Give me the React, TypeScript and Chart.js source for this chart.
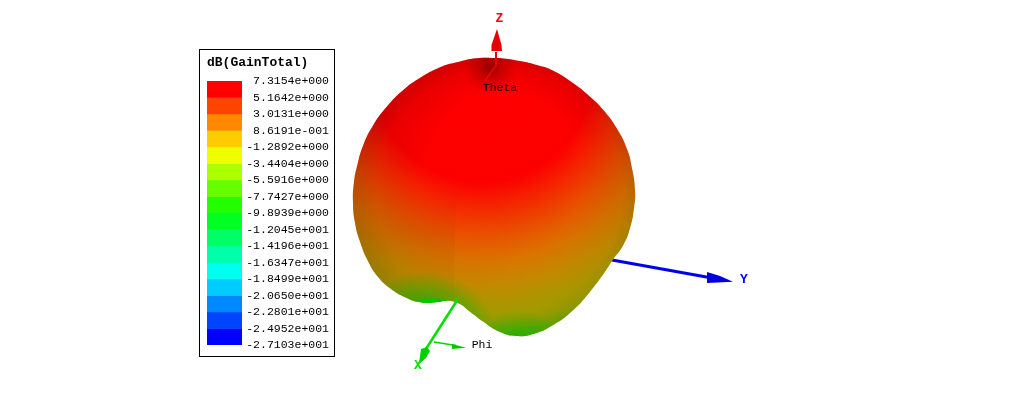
import React, { useEffect, useRef } from "react";
import { Chart, registerables } from "chart.js";

Chart.register(...registerables);

type P = { x: number; y: number };
const pts = (a: number[][]): P[] => a.map(([x, y]) => ({ x, y }));

// colour key
const legendTitle = "dB(GainTotal)";
const legendLabels = [
  "7.3154e+000", "5.1642e+000", "3.0131e+000", "8.6191e-001", "-1.2892e+000", "-3.4404e+000",
  "-5.5916e+000", "-7.7427e+000", "-9.8939e+000", "-1.2045e+001", "-1.4196e+001", "-1.6347e+001",
  "-1.8499e+001", "-2.0650e+001", "-2.2801e+001", "-2.4952e+001", "-2.7103e+001",
];
const legendColors = [
  "#ff0000", "#ff4400", "#ff8800", "#ffcc00", "#eeff00", "#aaff00", "#66ff00", "#22ff00",
  "#00ff22", "#00ff66", "#00ffaa", "#00ffee", "#00ccff", "#0088ff", "#0044ff", "#0000ff",
];
const legendLevels = legendLabels.map(Number);

// gain pattern silhouette
const lobeOutline = pts([
  [500, 58], [520, 61], [536.7, 65], [553.3, 70.7], [573.3, 83.3], [590, 96.7], [603.3, 110],
  [616.7, 128.3], [626.7, 148.3], [631.7, 166.7], [635, 190], [634, 208.3], [630, 228.3],
  [623.3, 245], [612.7, 260], [605, 271.7], [590, 291.7], [573.3, 310], [553.3, 325],
  [533.3, 334], [516.7, 336], [500, 332], [483.3, 321.7], [470, 311.7], [458.3, 303.3],
  [446.7, 300.7], [436.7, 302], [420, 302.3], [405, 297.3], [390, 288.3], [378.3, 277.3],
  [368.3, 261.7], [360, 241.7], [355, 223], [353, 203], [354, 181.7], [357.3, 165],
  [363.3, 145], [373.3, 125], [386.7, 106.7], [403.3, 90], [418.3, 79], [440, 67.3],
  [456.7, 62.3], [476.7, 58.3], [500, 58],
]);
const leftFacet = pts([
  [457, 183], [455, 240], [454, 302], [436.7, 302], [420, 302.3], [405, 297.3], [390, 288.3], [378.3, 277.3],
  [368.3, 261.7], [360, 241.7], [355, 223], [353, 203], [354, 181.7], [457, 183],
]);
const zStem = pts([[496, 52], [496, 66], [492, 71]]);
const zInner = pts([[492, 71], [485, 81]]);
const zCone = pts([[497, 29], [501.5, 45], [502, 51], [491, 51], [491.5, 45], [497, 29]]);
const yStem = pts([[612, 260], [712, 278]]);
const yCone = pts([[733, 281.7], [707, 283], [707, 272], [720, 276], [733, 281.7]]);
const xStem = pts([[458, 299], [424, 352]]);
const xCone = pts([[421, 349], [427, 347], [430, 351], [426, 358], [419, 364], [420, 356], [421, 349]]);
const phiStem = pts([[434, 342], [456, 345.5]]);
const phiCone = pts([[466, 347.7], [452, 349], [452, 344], [466, 347.7]]);
const xTongue = pts([[417, 300.5], [430, 298.5], [447, 300], [435, 302.5], [424, 302.8], [417, 300.5]]);

const axisLabels = [
  { text: "Z", x: 499.5, y: 19, color: "#ff0000", bold: true },
  { text: "Y", x: 744, y: 280, color: "#0000ff", bold: true },
  { text: "X", x: 418, y: 366, color: "#00e000", bold: true },
  { text: "Theta", x: 500, y: 88, color: "#000000", bold: false },
  { text: "Phi", x: 482, y: 345, color: "#000000", bold: false },
];

const MONO = '"Liberation Mono", "DejaVu Sans Mono", monospace';

const poly = (data: P[], color: any, tension = 0) => ({
  type: "scatter" as const,
  data,
  showLine: true,
  borderWidth: 0,
  pointRadius: 0,
  tension,
  fill: "shape",
  backgroundColor: color,
  borderColor: "rgba(0,0,0,0)",
});
const stroke = (data: P[], color: string, borderWidth: number) => ({
  type: "scatter" as const,
  data,
  showLine: true,
  borderWidth,
  pointRadius: 0,
  borderColor: color,
  backgroundColor: color,
  fill: false,
});

export default function App() {
  const mainRef = useRef<HTMLCanvasElement>(null);
  const keyRef = useRef<HTMLCanvasElement>(null);

  useEffect(() => {
    const ctx = mainRef.current!.getContext("2d")!;

    const gain = ctx.createRadialGradient(482, 72, 0, 482, 72, 290);
    [
      [0, "#ff0000"], [0.38, "#fc0000"], [0.47, "#f42800"], [0.56, "#e85000"], [0.65, "#dc7400"],
      [0.73, "#cc8e00"], [0.8, "#b8a000"], [0.86, "#aaac00"], [0.91, "#70c000"], [1, "#18d800"],
    ].forEach(([o, c]) => gain.addColorStop(o as number, c as string));

    const shade = ctx.createRadialGradient(515, 140, 0, 495, 205, 158);
    [
      [0, "rgba(0,0,0,0)"], [0.5, "rgba(0,0,0,0)"], [0.78, "rgba(0,0,0,0.08)"], [0.93, "rgba(0,0,0,0.2)"], [1, "rgba(0,0,0,0.26)"],
    ].forEach(([o, c]) => shade.addColorStop(o as number, c as string));

    const pole = ctx.createRadialGradient(490, 68, 0, 490, 68, 26);
    pole.addColorStop(0, "rgba(0,0,0,0.35)");
    pole.addColorStop(0.45, "rgba(0,0,0,0.15)");
    pole.addColorStop(1, "rgba(0,0,0,0)");

    const facet = ctx.createLinearGradient(0, 185, 0, 283);
    facet.addColorStop(0, "rgba(0,0,0,0)");
    facet.addColorStop(0.5, "rgba(0,0,0,0.035)");
    facet.addColorStop(1, "rgba(0,0,0,0.02)");

    const tintLeft = ctx.createRadialGradient(425, 345, 30, 425, 345, 74);
    tintLeft.addColorStop(0, "rgba(0,190,0,0.9)");
    tintLeft.addColorStop(0.4, "rgba(0,180,0,0.5)");
    tintLeft.addColorStop(1, "rgba(0,180,0,0)");

    const tintBottom = ctx.createRadialGradient(518, 365, 15, 518, 365, 55);
    tintBottom.addColorStop(0, "rgba(0,190,0,0.8)");
    tintBottom.addColorStop(1, "rgba(0,180,0,0)");

    const layers: any[] = [
      stroke(yStem, "#0000e8", 3),
      poly(yCone, "#0000e0"),
      poly(lobeOutline, gain, 0.5),
      poly(lobeOutline, shade, 0.5),
      poly(lobeOutline, pole, 0.5),
      poly(leftFacet, facet),
      poly(lobeOutline, tintLeft, 0.5),
      poly(lobeOutline, tintBottom, 0.5),
      poly(xTongue, "#00c800", 0.3),
      stroke(zStem, "#e80000", 2),
      stroke(zInner, "#f01010", 1.2),
      poly(zCone, "#e60000"),
      stroke(xStem, "#00e000", 2.5),
      poly(xCone, "#00d000"),
      stroke(phiStem, "#00d800", 1.5),
      poly(phiCone, "#00c800"),
    ];
    const datasets = layers.map((d, i) => ({ ...d, order: layers.length - i }));

    const labelPlugin = {
      id: "axisLabels",
      afterDatasetsDraw(c: any) {
        const g = c.ctx;
        g.save();
        g.textAlign = "center";
        g.textBaseline = "middle";
        axisLabels.forEach((l) => {
          g.font = `${l.bold ? "bold 13px" : "11.5px"} ${MONO}`;
          g.fillStyle = l.color;
          g.fillText(l.text, c.scales.x.getPixelForValue(l.x), c.scales.y.getPixelForValue(l.y));
        });
        g.restore();
      },
    };

    const main = new Chart(mainRef.current!, {
      type: "scatter",
      data: { datasets },
      plugins: [labelPlugin],
      options: {
        animation: false,
        responsive: false,
        devicePixelRatio: 1,
        layout: { padding: 0 },
        plugins: { legend: { display: false }, tooltip: { enabled: false }, title: { display: false } },
        scales: {
          x: { type: "linear", min: 0, max: 1036, display: false },
          y: { type: "linear", min: 0, max: 401, reverse: true, display: false },
        },
      },
    } as any);

    const key = new Chart(keyRef.current!, {
      type: "bar",
      data: {
        labels: ["key"],
        datasets: legendColors.map((color, i) => ({
          data: [[legendLevels[i + 1], legendLevels[i]]],
          backgroundColor: color,
          borderWidth: 0,
          barPercentage: 1,
          categoryPercentage: 1,
          grouped: false,
        })),
      } as any,
      options: {
        animation: false,
        responsive: false,
        devicePixelRatio: 1,
        layout: { padding: { left: 7, right: 5, top: 0, bottom: 11 } },
        plugins: {
          legend: { display: false },
          tooltip: { enabled: false },
          title: {
            display: true,
            text: legendTitle,
            align: "start",
            color: "#000000",
            font: { family: MONO, size: 13, weight: "bold", lineHeight: 1.2 },
            padding: { top: 5, bottom: 10.4 },
          },
        },
        scales: {
          x: { display: false },
          y: {
            position: "right",
            min: legendLevels[legendLevels.length - 1],
            max: legendLevels[0],
            grid: { display: false, drawTicks: false },
            border: { display: false },
            afterBuildTicks: (s: any) => {
              s.ticks = legendLevels.map((value) => ({ value }));
            },
            afterFit: (s: any) => {
              s.width = 87;
            },
            ticks: {
              autoSkip: false,
              padding: 4,
              crossAlign: "far",
              color: "#000000",
              font: { family: MONO, size: 11.5 },
              callback: (v: number) => legendLabels[legendLevels.indexOf(v)],
            },
          },
        },
      },
    } as any);

    return () => {
      main.destroy();
      key.destroy();
    };
  }, []);

  return (
    <div style={{ position: "fixed", left: 0, top: 0, width: 1036, height: 401, background: "#fff", overflow: "hidden" }}>
      <canvas ref={mainRef} width={1036} height={401} style={{ position: "absolute", left: 0, top: 0, display: "block" }} />
      <div style={{ position: "absolute", left: 199, top: 49, width: 134, height: 306, border: "1px solid #000", background: "#fff" }}>
        <canvas ref={keyRef} width={134} height={306} style={{ display: "block" }} />
      </div>
    </div>
  );
}
